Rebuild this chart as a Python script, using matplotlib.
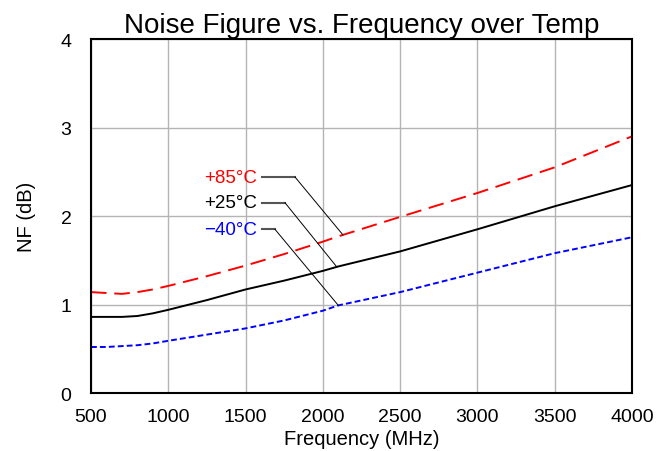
import numpy as np
import matplotlib.pyplot as plt

plt.rcParams['font.family'] = ['Liberation Sans', 'DejaVu Sans']

# data
freq = [500, 600, 700, 800, 900, 1000, 1250, 1500, 1750, 2000, 2100, 2500, 3000, 3500, 4000]
nf_85 = [1.14, 1.13, 1.12, 1.14, 1.17, 1.21, 1.32, 1.44, 1.57, 1.71, 1.77, 1.99, 2.26, 2.55, 2.90]
nf_25 = [0.86, 0.86, 0.86, 0.87, 0.90, 0.94, 1.05, 1.17, 1.27, 1.38, 1.43, 1.60, 1.85, 2.11, 2.35]
nf_m40 = [0.52, 0.52, 0.53, 0.54, 0.56, 0.59, 0.66, 0.73, 0.82, 0.93, 0.99, 1.14, 1.36, 1.58, 1.76]

labels = ['+85°C', '+25°C', '\u221240°C']
colors = ['red', 'black', 'blue']
label_y = [2.44, 2.15, 1.85]
elbow_x = [1820, 1755, 1690]
target_x = [2130, 2090, 2100]

fig = plt.figure(figsize=(6.66, 4.52), dpi=100)
ax = fig.add_axes([0.1366, 0.1283, 0.8124, 0.7832])

series = [nf_85, nf_25, nf_m40]
ax.plot(freq, nf_85, color='red', lw=1.4, dashes=(8, 4))
ax.plot(freq, nf_25, color='black', lw=1.4)
ax.plot(freq, nf_m40, color='blue', lw=1.4, dashes=(3, 1.6))

# callout labels with leader lines
for i in range(3):
    ax.text(1574, label_y[i], labels[i], color=colors[i], fontsize=13.5,
            ha='right', va='center')
    ax.plot([1606, elbow_x[i]], [label_y[i], label_y[i]], color='#555555', lw=1.5)
    ty = np.interp(target_x[i], freq, series[i])
    ax.plot([elbow_x[i], target_x[i]], [label_y[i], ty], color='black', lw=0.7)

ax.set_xlim(500, 4000)
ax.set_ylim(0, 4)
ax.set_xticks(range(500, 4001, 500))
ax.set_yticks(range(0, 5))
ax.grid(True, color='#b4b4b4', lw=1)
ax.set_axisbelow(True)
ax.tick_params(length=0, labelsize=14)
ax.tick_params(axis='y', pad=14)
ax.tick_params(axis='x', pad=11)
for s in ax.spines.values():
    s.set_linewidth(1.5)

ax.set_title('Noise Figure vs. Frequency over Temp', fontsize=20, pad=5)
ax.set_xlabel('Frequency (MHz)', fontsize=14.5, labelpad=3)
ax.set_ylabel('NF (dB)', fontsize=14.5, labelpad=18)

fig.savefig('out.png', dpi=100)
